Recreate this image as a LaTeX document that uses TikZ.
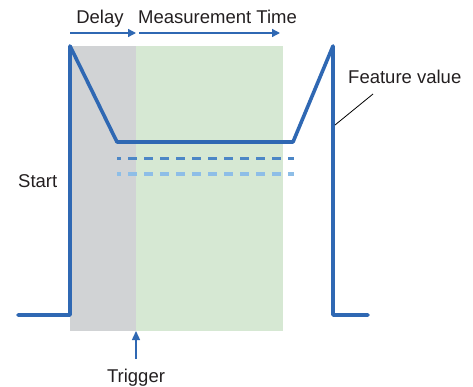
\documentclass[tikz,border=0pt]{standalone}
\usepackage{fontspec}
\setmainfont{Liberation Sans}
\usetikzlibrary{arrows.meta}
\definecolor{wave}{HTML}{2F68B3}
\definecolor{graybg}{HTML}{D1D3D5}
\definecolor{greenbg}{HTML}{D6E8D3}
\definecolor{dashdark}{HTML}{4C86C6}
\definecolor{dashlight}{HTML}{8EBEE7}
\definecolor{txt}{HTML}{231F20}
\tikzset{
  lbl/.style={font=\fontsize{18.5}{21}\selectfont, text=txt, inner sep=0pt},
  wavepath/.style={draw=wave, line width=3.6pt, line join=round, line cap=round},
  timearrow/.style={draw=wave, line width=1.4pt, -{Triangle[length=8pt,width=8pt]}},
  lvl/.style={line width=3.3pt, dash pattern=on 9pt off 7pt, dash phase=5pt},
}
\begin{document}
\begin{tikzpicture}[x=1pt,y=-1pt]
\useasboundingbox (0,0) rectangle (473,387);
% backgrounds
\fill[graybg] (70,46) rectangle (136,331);
\fill[greenbg] (136,46) rectangle (283,331);
% waveform
\coordinate (w0) at (18,315);
\coordinate (w1) at (70,315);
\coordinate (w2) at (70,46);
\coordinate (w3) at (117,142);
\coordinate (w4) at (293,142);
\coordinate (w5) at (333,46);
\coordinate (w6) at (333,315);
\coordinate (w7) at (368,315);
\draw[wavepath] (w0) -- (w1) -- (w2) -- (w3) -- (w4) -- (w5) -- (w6) -- (w7);
% level dashed lines
\coordinate (d1a) at (117,158.5);
\coordinate (d1b) at (294,158.5);
\coordinate (d2a) at (117,174);
\coordinate (d2b) at (294,174);
\draw[lvl, dashdark] (d1a) -- (d1b);
\draw[lvl, dashlight] (d2a) -- (d2b);
% time arrows
\coordinate (a0) at (70,33);
\coordinate (a1) at (136,33);
\coordinate (a2) at (139,33);
\coordinate (a3) at (280,33);
\draw[timearrow] (a0) -- (a1);
\draw[timearrow] (a2) -- (a3);
% labels
\node[lbl, anchor=base] (delay) at (100,24) {Delay};
\node[lbl, anchor=base west] (meas) at (138,24) {Measurement Time};
\node[lbl, anchor=base west] (feat) at (348,84) {Feature value};
\node[lbl, anchor=base west] (start) at (18,188) {Start};
\node[lbl, anchor=base] (trig) at (136,382) {Trigger};
% feature leader
\coordinate (fl) at (335,125);
\draw[black, line width=0.8pt] (373,94) -- (fl);
% trigger arrow
\coordinate (tb) at (136,359);
\coordinate (tt) at (136,331);
\draw[timearrow, -{Triangle[length=9pt,width=8pt]}] (tb) -- (tt);
\end{tikzpicture}
\end{document}
